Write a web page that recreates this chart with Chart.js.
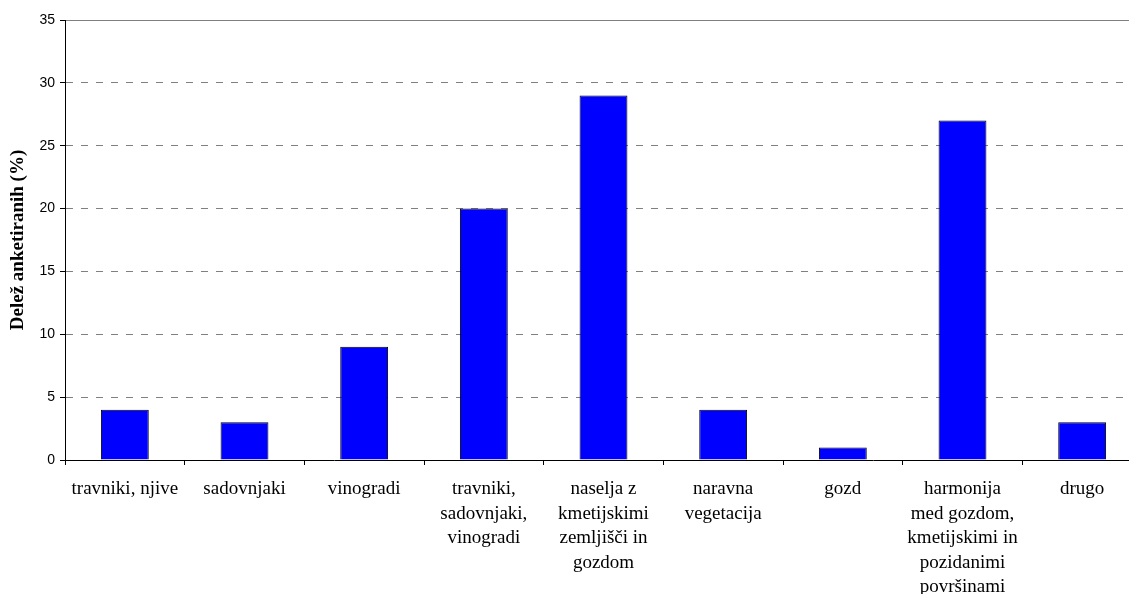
<!DOCTYPE html>
<html>
<head>
<meta charset="utf-8">
<script src="https://cdn.jsdelivr.net/npm/chart.js@4/dist/chart.umd.min.js"></script>
<style>
  html, body { margin: 0; padding: 0; background: #fff; overflow: hidden; }
  canvas { display: block; }
</style>
</head>
<body>
<canvas id="landChart" width="1150" height="594"></canvas>
<script>
// kategorije in deleži
const categories = [
  'travniki, njive',
  'sadovnjaki',
  'vinogradi',
  ['travniki,', 'sadovnjaki,', 'vinogradi'],
  ['naselja z', 'kmetijskimi', 'zemljišči in', 'gozdom'],
  ['naravna', 'vegetacija'],
  'gozd',
  ['harmonija', 'med gozdom,', 'kmetijskimi in', 'pozidanimi', 'površinami'],
  'drugo'
];
const shares = [4, 3, 9, 20, 29, 4, 1, 27, 3];
const yTicks = [0, 5, 10, 15, 20, 25, 30, 35];

const ctx = document.getElementById('landChart').getContext('2d');
new Chart(ctx, {
  type: 'bar',
  data: {
    labels: categories,
    datasets: [{
      data: shares,
      backgroundColor: '#0000ff',
      borderColor: '#000',
      borderWidth: 1,
      barPercentage: 0.4,
      categoryPercentage: 1.0
    }]
  },
  options: {
    responsive: false,
    animation: false,
    layout: { padding: { top: 20, right: 8, left: 0, bottom: 0 } },
    plugins: {
      legend: { display: false },
      tooltip: { enabled: false }
    },
    scales: {
      x: {
        grid: {
          offset: true,
          drawOnChartArea: false,
          drawTicks: true,
          tickLength: 5,
          tickColor: '#000'
        },
        border: { color: '#000', width: 1 },
        ticks: {
          color: '#000',
          padding: 12,
          maxRotation: 0,
          autoSkip: false,
          font: { family: '"Liberation Serif", "Times New Roman", serif', size: 19, lineHeight: 1.29 }
        },
        afterFit: function(scale) { scale.height = 134; }
      },
      y: {
        min: 0,
        max: 35,
        afterBuildTicks: function(scale) {
          scale.ticks = yTicks.map(v => ({ value: v }));
        },
        grid: {
          color: function(c) { return c.tick && c.tick.value === 0 ? 'rgba(0,0,0,0)' : '#808080'; },
          lineWidth: 1,
          drawTicks: true,
          tickLength: 5,
          tickColor: '#000'
        },
        border: {
          color: '#000',
          width: 1,
          dash: function(c) { return c.tick && c.tick.value === 35 ? [] : [7, 8]; }
        },
        ticks: {
          color: '#000',
          padding: 5,
          font: { family: '"Liberation Sans", Arial, sans-serif', size: 14 }
        },
        title: {
          display: true,
          text: 'Delež anketiranih (%)',
          color: '#000',
          padding: { top: 7, bottom: 0 },
          font: { family: '"Liberation Serif", "Times New Roman", serif', size: 19, weight: 'bold' }
        },
        afterFit: function(scale) { scale.width = 65; }
      }
    }
  }
});
</script>
</body>
</html>
